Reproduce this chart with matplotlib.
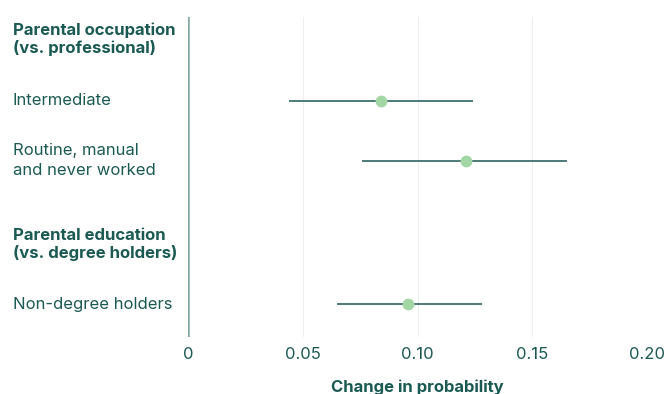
import matplotlib.pyplot as plt
import matplotlib.transforms as mtransforms

plt.rcParams['font.family'] = ['Inter', 'DejaVu Sans']

# Estimates with confidence intervals
labels = ["Intermediate", "Routine, manual\nand never worked", "Non-degree holders"]
estimates = [0.084, 0.121, 0.096]
ci_low = [0.044, 0.076, 0.065]
ci_high = [0.124, 0.165, 0.128]

headers = ["Parental occupation\n(vs. professional)", "Parental education\n(vs. degree holders)"]

xticks = [0, 0.05, 0.10, 0.15, 0.20]
xticklabels = ["0", "0.05", "0.10", "0.15", "0.20"]

# row layout (top to bottom)
row_y = [1.03, 2.03, 4.42]
header_y = [0.0, 3.42]

text_col = "#1b5a53"
line_col = "#3f716d"
dot_col = "#a3d6a5"
zero_col = "#7fa5a4"

fig = plt.figure(figsize=(6.67, 3.94), dpi=100)
ax = fig.add_axes([188 / 667, 1 - 337 / 394, (647 - 188) / 667, 320 / 394])

for y, est, lo, hi in zip(row_y, estimates, ci_low, ci_high):
    ax.plot([lo, hi], [y, y], color=line_col, lw=1.3, solid_capstyle="butt", zorder=3)
    ax.plot(est, y, "o", color=dot_col, ms=8.5, mec="none", zorder=4)

ax.set_xlim(0, 0.2)
ax.set_ylim(4.97, -0.367)

for x in xticks[1:]:
    ax.axvline(x, color="#eeeeee", lw=0.8, zorder=1)
ax.axvline(0, color=zero_col, lw=1.8, zorder=2)

for s in ax.spines.values():
    s.set_visible(False)
ax.set_yticks([])
ax.set_xticks(xticks)
ax.set_xticklabels(xticklabels)
ax.tick_params(axis="x", length=0, pad=7, labelsize=12, labelcolor=text_col)
ax.set_xlabel("Change in probability", fontsize=12, fontweight="bold", color=text_col, labelpad=13)

trans = mtransforms.blended_transform_factory(fig.transFigure, ax.transData)
for y, lab in zip(header_y, headers):
    ax.text(13 / 667, y, lab, transform=trans, ha="left", va="center",
            fontsize=12, fontweight="bold", color=text_col, linespacing=1.15)
for y, lab in zip(row_y, labels):
    ax.text(13 / 667, y, lab, transform=trans, ha="left", va="center",
            fontsize=12, color=text_col, linespacing=1.38)

fig.savefig("out.png", dpi=100)
